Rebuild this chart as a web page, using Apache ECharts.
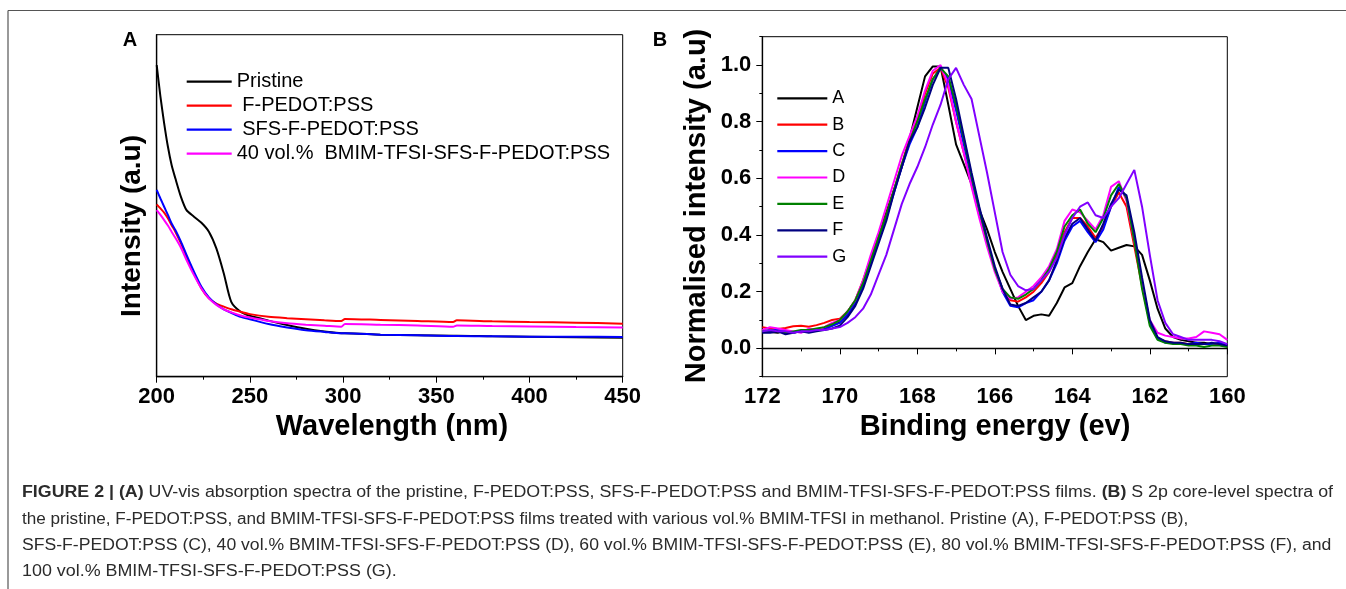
<!DOCTYPE html>
<html><head><meta charset="utf-8">
<script src="https://cdn.jsdelivr.net/npm/echarts@6/dist/echarts.min.js"></script>
<style>html,body{margin:0;padding:0;background:#fff}#c{width:1346px;height:589px}</style>
</head><body><div id="c"></div>
<script>
// ---------- Panel A : UV-vis ----------
const wavelength = [200,202,204,206,208,210,213,216,220,224,228,232,236,240,245,250,260,270,280,290,299,301,320,340,359,361,380,400,425,450];
const pristine = [91.1,81.9,74.1,67.3,61.9,58.0,52.6,48.7,46.8,45.0,42.4,37.5,30.2,21.9,19.0,17.8,16.4,15.1,14.0,13.2,12.7,12.7,12.3,12.1,12.0,12.0,11.8,11.7,11.5,11.4];
const fPedot   = [50.4,49.2,48.0,46.3,44.3,42.4,39.0,35.1,30.2,25.8,22.9,21.4,20.5,19.7,19.0,18.3,17.5,17.1,16.8,16.5,16.3,16.9,16.6,16.3,16.0,16.5,16.2,16.0,15.8,15.5];
const sfsPedot = [54.6,52.1,49.7,47.3,44.8,42.9,39.5,35.6,30.7,26.3,23.2,21.2,19.7,18.7,17.5,16.8,15.4,14.4,13.6,13.1,12.7,12.7,12.3,12.1,11.9,11.9,11.8,11.7,11.7,11.6];
const bmim40   = [48.7,47.3,45.8,44.2,42.4,40.6,37.7,34.1,29.7,25.8,22.9,21.0,19.7,18.8,17.9,17.3,16.3,15.6,15.2,14.9,14.6,15.4,15.2,15.0,14.6,15.0,14.8,14.7,14.5,14.4];
const namesA = ['Pristine',' F-PEDOT:PSS',' SFS-F-PEDOT:PSS','40 vol.%  BMIM-TFSI-SFS-F-PEDOT:PSS'];
const colorsA = ['#000000','#ff0000','#0000ff','#ff00ff'];
const xTicksA = [200,250,300,350,400,450];

// ---------- Panel B : S 2p XPS ----------
const energy = [172.0,171.8,171.6,171.4,171.2,171.0,170.8,170.6,170.4,170.2,
  170.0,169.8,169.6,169.4,169.2,169.0,168.8,168.6,168.4,168.2,
  168.0,167.8,167.6,167.4,167.2,167.0,166.8,166.6,166.4,166.2,
  166.0,165.8,165.6,165.4,165.2,165.0,164.8,164.6,164.4,164.2,
  164.0,163.8,163.6,163.4,163.2,163.0,162.8,162.6,162.4,162.2,
  162.0,161.8,161.6,161.4,161.2,161.0,160.8,160.6,160.4,160.2,160.0];
const sA = [0.060,0.058,0.055,0.062,0.056,0.060,0.062,0.066,0.072,0.080,
  0.092,0.120,0.160,0.230,0.320,0.400,0.480,0.560,0.640,0.740,
  0.850,0.960,0.995,0.995,0.860,0.720,0.650,0.580,0.490,0.420,
  0.340,0.270,0.210,0.150,0.100,0.115,0.120,0.115,0.160,0.215,
  0.230,0.290,0.340,0.385,0.375,0.345,0.355,0.365,0.360,0.330,
  0.240,0.140,0.070,0.040,0.030,0.025,0.020,0.020,0.015,0.018,0.010];
const sB = [0.075,0.070,0.068,0.072,0.078,0.080,0.076,0.082,0.090,0.100,
  0.105,0.130,0.170,0.240,0.320,0.390,0.470,0.560,0.650,0.740,
  0.810,0.900,0.970,0.990,0.920,0.800,0.690,0.580,0.470,0.370,
  0.280,0.210,0.170,0.165,0.180,0.200,0.230,0.270,0.330,0.410,
  0.460,0.460,0.430,0.390,0.430,0.500,0.550,0.500,0.360,0.220,
  0.090,0.035,0.025,0.020,0.020,0.015,0.015,0.015,0.015,0.015,0.010];
const sC = [0.060,0.062,0.066,0.060,0.056,0.060,0.060,0.066,0.070,0.080,
  0.090,0.120,0.160,0.220,0.300,0.380,0.460,0.550,0.640,0.720,
  0.780,0.870,0.950,0.990,0.950,0.840,0.720,0.600,0.480,0.380,
  0.280,0.200,0.150,0.145,0.160,0.170,0.200,0.240,0.300,0.380,
  0.430,0.450,0.410,0.375,0.420,0.500,0.570,0.530,0.390,0.230,
  0.090,0.035,0.020,0.020,0.015,0.015,0.020,0.015,0.015,0.020,0.010];
const sD = [0.065,0.075,0.070,0.065,0.060,0.055,0.070,0.065,0.075,0.090,
  0.100,0.130,0.170,0.240,0.330,0.410,0.500,0.590,0.680,0.750,
  0.820,0.910,0.980,1.000,0.930,0.800,0.690,0.570,0.460,0.360,
  0.270,0.200,0.175,0.180,0.200,0.220,0.250,0.290,0.350,0.450,
  0.490,0.480,0.450,0.420,0.470,0.570,0.590,0.520,0.380,0.230,
  0.100,0.055,0.045,0.040,0.035,0.035,0.040,0.060,0.055,0.050,0.030];
const sE = [0.060,0.065,0.060,0.055,0.060,0.065,0.065,0.070,0.075,0.085,
  0.100,0.130,0.170,0.230,0.310,0.390,0.470,0.560,0.650,0.730,
  0.800,0.880,0.950,0.990,0.960,0.860,0.740,0.610,0.490,0.380,
  0.280,0.210,0.180,0.175,0.190,0.210,0.240,0.280,0.340,0.430,
  0.470,0.490,0.440,0.410,0.460,0.540,0.580,0.530,0.380,0.210,
  0.080,0.030,0.020,0.015,0.015,0.010,0.010,0.005,0.010,0.010,0.005];
const sF = [0.055,0.055,0.060,0.050,0.055,0.060,0.055,0.060,0.065,0.070,
  0.080,0.110,0.150,0.210,0.290,0.370,0.450,0.550,0.640,0.730,
  0.780,0.850,0.930,0.990,0.990,0.880,0.750,0.620,0.500,0.390,
  0.290,0.210,0.155,0.150,0.160,0.180,0.200,0.240,0.310,0.390,
  0.440,0.460,0.420,0.380,0.440,0.510,0.560,0.540,0.410,0.250,
  0.100,0.040,0.025,0.020,0.020,0.015,0.015,0.015,0.020,0.015,0.010];
const sG = [0.060,0.065,0.060,0.060,0.055,0.060,0.060,0.065,0.065,0.070,
  0.075,0.090,0.110,0.140,0.190,0.260,0.330,0.420,0.510,0.580,
  0.640,0.710,0.790,0.860,0.950,0.990,0.930,0.880,0.750,0.620,
  0.480,0.340,0.260,0.220,0.205,0.210,0.240,0.270,0.320,0.400,
  0.460,0.500,0.515,0.470,0.460,0.500,0.530,0.580,0.630,0.500,
  0.330,0.170,0.090,0.050,0.040,0.030,0.030,0.030,0.030,0.025,0.015];
const namesB = ['A','B','C','D','E','F','G'];
const colorsB = ['#000000','#ff0000','#0000ff','#ff00ff','#008000','#000080','#8000ff'];
const yTicksB = [0.0,0.2,0.4,0.6,0.8,1.0];

const captionLines = [
  '{b|FIGURE 2 | (A)} UV-vis absorption spectra of the pristine, F-PEDOT:PSS, SFS-F-PEDOT:PSS and BMIM-TFSI-SFS-F-PEDOT:PSS films. {b|(B)} S 2p core-level spectra of',
  'the pristine, F-PEDOT:PSS, and BMIM-TFSI-SFS-F-PEDOT:PSS films treated with various vol.% BMIM-TFSI in methanol. Pristine (A), F-PEDOT:PSS (B),',
  'SFS-F-PEDOT:PSS (C), 40 vol.% BMIM-TFSI-SFS-F-PEDOT:PSS (D), 60 vol.% BMIM-TFSI-SFS-F-PEDOT:PSS (E), 80 vol.% BMIM-TFSI-SFS-F-PEDOT:PSS (F), and',
  '100 vol.% BMIM-TFSI-SFS-F-PEDOT:PSS (G).'
];
const captionStretch = [1.112, 1.070, 1.100, 1.118];

const FF = '"Liberation Sans", Arial, Helvetica, sans-serif';
const chart = echarts.init(document.getElementById('c'), null, {renderer:'canvas'});

const seriesA = [pristine, fPedot, sfsPedot, bmim40].map((vals, k) => ({
  name: namesA[k], type: 'line', xAxisIndex: 0, yAxisIndex: 0,
  data: wavelength.map((w, i) => [w, vals[i]]),
  symbol: 'none', smooth: 0.25, color: colorsA[k],
  lineStyle: {width: 2, color: colorsA[k]}, animation: false, z: 3
}));
const seriesB = [sA, sB, sC, sD, sE, sF, sG].map((vals, k) => ({
  name: namesB[k], type: 'line', xAxisIndex: 1, yAxisIndex: 1,
  data: energy.map((e, i) => [e, vals[i]]),
  symbol: 'none', color: colorsB[k],
  lineStyle: {width: 2, color: colorsB[k]}, animation: false, z: 3 + k
}));

const tickLabel = {fontFamily: FF, fontWeight: 'bold', fontSize: 22, color: '#000'};

const graphics = [
  {type:'line', shape:{x1:8, y1:10.5, x2:1346, y2:10.5}, style:{stroke:'#555', lineWidth:1.2}},
  {type:'line', shape:{x1:8, y1:10.5, x2:8, y2:589}, style:{stroke:'#555', lineWidth:1.2}},
  {type:'text', x:130, y:40, style:{text:'A', font:'bold 20px ' + FF, fill:'#000', align:'center', verticalAlign:'middle'}},
  {type:'text', x:660, y:40, style:{text:'B', font:'bold 20px ' + FF, fill:'#000', align:'center', verticalAlign:'middle'}},
  {type:'text', x:132, y:226, rotation: Math.PI/2, style:{text:'Intensity (a.u)', font:'bold 28px ' + FF, fill:'#000', align:'center', verticalAlign:'middle'}},
  {type:'text', x:697, y:206, rotation: Math.PI/2, style:{text:'Normalised intensity (a.u)', font:'bold 29px ' + FF, fill:'#000', align:'center', verticalAlign:'middle'}},
  {type:'text', x:392, y:427, style:{text:'Wavelength (nm)', font:'bold 29px ' + FF, fill:'#000', align:'center', verticalAlign:'middle'}},
  {type:'text', x:995, y:427, style:{text:'Binding energy (ev)', font:'bold 29px ' + FF, fill:'#000', align:'center', verticalAlign:'middle'}}
];
captionLines.forEach((t, i) => {
  graphics.push({type:'text', x:22, y:493 + i*26.2, scaleX:captionStretch[i], style:{
    text: t, fontFamily: FF, fontSize: 16, fill:'#2b2b2b', verticalAlign:'middle', align:'left',
    rich: {b: {fontFamily: FF, fontSize: 16, fontWeight:'bold', fill:'#2b2b2b'}}
  }});
});

chart.setOption({
  animation: false,
  backgroundColor: '#fff',
  grid: [
    {left:156.7, top:34.7, width:466, height:342, show:true, borderColor:'#000', borderWidth:1, containLabel:false},
    {left:762.3, top:36.7, width:465, height:340, show:true, borderColor:'#000', borderWidth:1, containLabel:false}
  ],
  xAxis: [
    {gridIndex:0, type:'value', min:200, max:450, interval:50,
     axisLine:{show:true, lineStyle:{color:'#000', width:1.3}},
     axisTick:{show:true, inside:false, length:6, lineStyle:{color:'#000'}},
     minorTick:{show:true, splitNumber:2, length:3, lineStyle:{color:'#000'}},
     axisLabel:Object.assign({margin:9, customValues: xTicksA}, tickLabel), splitLine:{show:false}},
    {gridIndex:1, type:'value', min:160, max:172, interval:2, inverse:true,
     axisLine:{show:true, lineStyle:{color:'#000', width:1.3}},
     axisTick:{show:true, inside:false, length:6, lineStyle:{color:'#000'}},
     minorTick:{show:true, splitNumber:2, length:3, lineStyle:{color:'#000'}},
     axisLabel:Object.assign({margin:9}, tickLabel), splitLine:{show:false}}
  ],
  yAxis: [
    {gridIndex:0, type:'value', min:0, max:100, position:'left',
     axisLine:{show:true, lineStyle:{color:'#000', width:1.3}},
     axisTick:{show:false}, axisLabel:{show:false}, splitLine:{show:false}},
    {gridIndex:1, type:'value', min:-0.1, max:1.1, position:'left',
     axisLine:{show:true, lineStyle:{color:'#000', width:1.3}},
     axisTick:{show:true, inside:false, length:6, customValues: yTicksB, lineStyle:{color:'#000'}},
     axisLabel:Object.assign({margin:11, customValues: yTicksB, formatter: v => v.toFixed(1)}, tickLabel),
     splitLine:{show:false}},
    {gridIndex:1, type:'value', min:-0.1, max:1.1, interval:0.1, position:'left', offset:0,
     axisLine:{show:false},
     axisTick:{show:true, inside:false, length:3, lineStyle:{color:'#000'}},
     axisLabel:{show:false}, splitLine:{show:false}}
  ],
  legend: [
    {orient:'vertical', left:186.7, top:71.7, padding:0, icon:'rect', itemWidth:45, itemHeight:2.2, itemGap:4,
     selectedMode:false, data: namesA,
     textStyle:{fontFamily:FF, fontSize:20, lineHeight:20, color:'#000'}},
    {orient:'vertical', left:777.3, top:88.3, padding:0, icon:'rect', itemWidth:50, itemHeight:2.2, itemGap:6.4,
     selectedMode:false, data: namesB,
     textStyle:{fontFamily:FF, fontSize:18, lineHeight:20, color:'#000'}}
  ],
  series: seriesA.concat(seriesB),
  graphic: graphics
});
</script>
</body></html>
